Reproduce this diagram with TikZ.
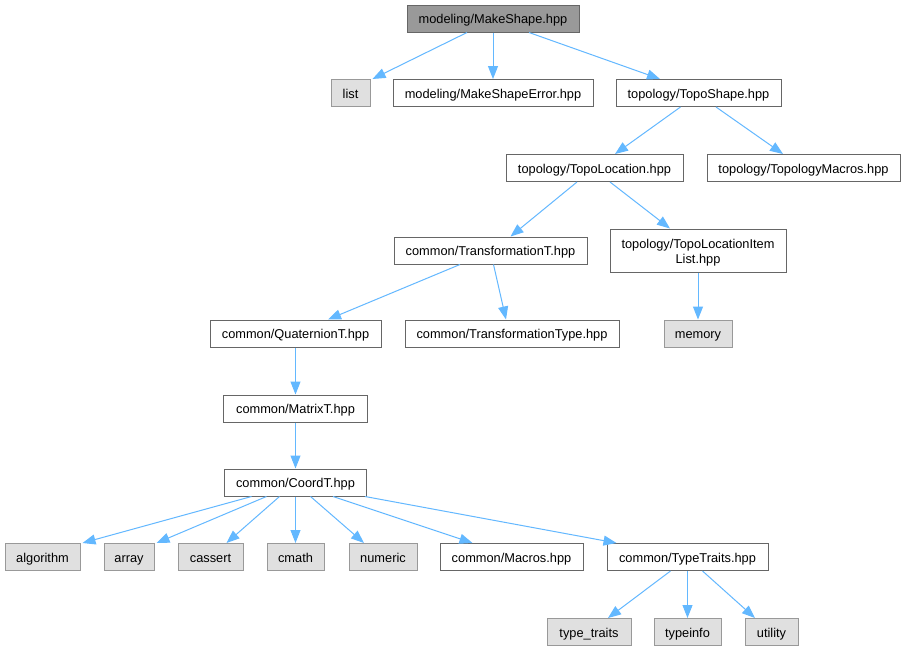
\documentclass[tikz,border=0pt]{standalone}
\usepackage{fontspec}
\setmainfont{Liberation Sans}
\usetikzlibrary{arrows.meta}
\definecolor{edgeblue}{HTML}{63B8FF}
\definecolor{bordergray}{HTML}{666666}
\definecolor{sysborder}{HTML}{999999}
\definecolor{sysfill}{HTML}{E0E0E0}
\definecolor{topfill}{HTML}{999999}
\tikzset{
  basebox/.style={rectangle, inner sep=0pt, minimum height=27pt, line width=1pt,
    font=\fontsize{12.8}{15}\selectfont, text=black, align=center,
    text height=10pt, text depth=0pt},
  filebox/.style={basebox, draw=bordergray, fill=white},
  sysbox/.style={basebox, draw=sysborder, fill=sysfill},
  topbox/.style={basebox, draw=bordergray, fill=topfill},
  edge/.style={draw=edgeblue, line width=1pt, -{Triangle[length=13pt,width=10pt]}},
}
\begin{document}
\begin{tikzpicture}[x=1pt,y=-1pt]
\useasboundingbox[fill=white] (0,0) rectangle (906,651);
% row 0
\node[topbox, minimum width=172pt] (ms) at (493,18.5) {modeling/MakeShape.hpp};
% row 1
\node[sysbox, minimum width=39pt] (list) at (350.5,93) {list};
\node[filebox, minimum width=200pt] (mse) at (493,93) {modeling/MakeShapeError.hpp};
\node[filebox, minimum width=165pt] (ts) at (698.5,93) {topology/TopoShape.hpp};
% row 2
\node[filebox, minimum width=177pt] (tl) at (594.5,168) {topology/TopoLocation.hpp};
\node[filebox, minimum width=193pt] (tm) at (803.5,168) {topology/TopologyMacros.hpp};
% row 3
\node[filebox, minimum width=193pt] (tt) at (490.5,250.5) {common/TransformationT.hpp};
\node[filebox, minimum width=176pt, minimum height=43pt, text height=25pt, text depth=0pt] (tli) at (698,250.5) {topology/TopoLocationItem\\List.hpp};
% row 4
\node[filebox, minimum width=171pt] (qt) at (295.5,333.5) {common/QuaternionT.hpp};
\node[filebox, minimum width=214pt] (ttype) at (512,333.5) {common/TransformationType.hpp};
\node[sysbox, minimum width=68pt] (mem) at (698,333.5) {memory};
% row 5
\node[filebox, minimum width=144pt] (mx) at (295.5,408.5) {common/MatrixT.hpp};
% row 6
\node[filebox, minimum width=142pt] (ct) at (295.5,482.5) {common/CoordT.hpp};
% row 7
\node[sysbox, minimum width=75pt] (alg) at (42.5,557) {algorithm};
\node[sysbox, minimum width=50pt] (arr) at (129,557) {array};
\node[sysbox, minimum width=65pt] (cas) at (210.5,557) {cassert};
\node[sysbox, minimum width=57pt] (cm) at (295.5,557) {cmath};
\node[sysbox, minimum width=68pt] (num) at (383,557) {numeric};
\node[filebox, minimum width=143pt] (mac) at (511.5,557) {common/Macros.hpp};
\node[filebox, minimum width=161pt] (tyt) at (687.5,557) {common/TypeTraits.hpp};
% row 8
\node[sysbox, minimum width=84pt] (tytr) at (589,632) {type\_traits};
\node[sysbox, minimum width=67pt] (ti) at (687.5,632) {typeinfo};
\node[sysbox, minimum width=53pt] (ut) at (771.5,632) {utility};
% edges
\draw[edge] ([xshift=-26pt]ms.south) -- ([xshift=2pt]list.north east);
\draw[edge] (ms.south) -- (mse.north);
\draw[edge] ([xshift=36pt]ms.south) -- ([xshift=-38.5pt]ts.north);
\draw[edge] ([xshift=-18pt]ts.south) -- ([xshift=20.5pt]tl.north);
\draw[edge] ([xshift=17.5pt]ts.south) -- ([xshift=-20.5pt]tm.north);
\draw[edge] ([xshift=-17.5pt]tl.south) -- ([xshift=20pt]tt.north);
\draw[edge] ([xshift=15.5pt]tl.south) -- ([xshift=-28pt]tli.north);
\draw[edge] ([xshift=-30.5pt]tt.south) -- ([xshift=32.5pt]qt.north);
\draw[edge] ([xshift=3pt]tt.south) -- ([xshift=-6pt]ttype.north);
\draw[edge] (tli.south) -- (mem.north);
\draw[edge] (qt.south) -- (mx.north);
\draw[edge] (mx.south) -- (ct.north);
\draw[edge] ([xshift=-44pt]ct.south) -- ([xshift=2pt]alg.north east);
\draw[edge] ([xshift=-29pt]ct.south) -- ([xshift=2pt]arr.north east);
\draw[edge] ([xshift=-16pt]ct.south) -- ([xshift=16pt]cas.north);
\draw[edge] (ct.south) -- (cm.north);
\draw[edge] ([xshift=15pt]ct.south) -- ([xshift=-19pt]num.north);
\draw[edge] ([xshift=37.5pt]ct.south) -- ([xshift=-39pt]mac.north);
\draw[edge] ([xshift=-2pt]ct.south east) -- ([xshift=10pt]tyt.north west);
\draw[edge] ([xshift=-17pt]tyt.south) -- ([xshift=19pt]tytr.north);
\draw[edge] (tyt.south) -- (ti.north);
\draw[edge] ([xshift=15pt]tyt.south) -- ([xshift=-16.5pt]ut.north);
\end{tikzpicture}
\end{document}
